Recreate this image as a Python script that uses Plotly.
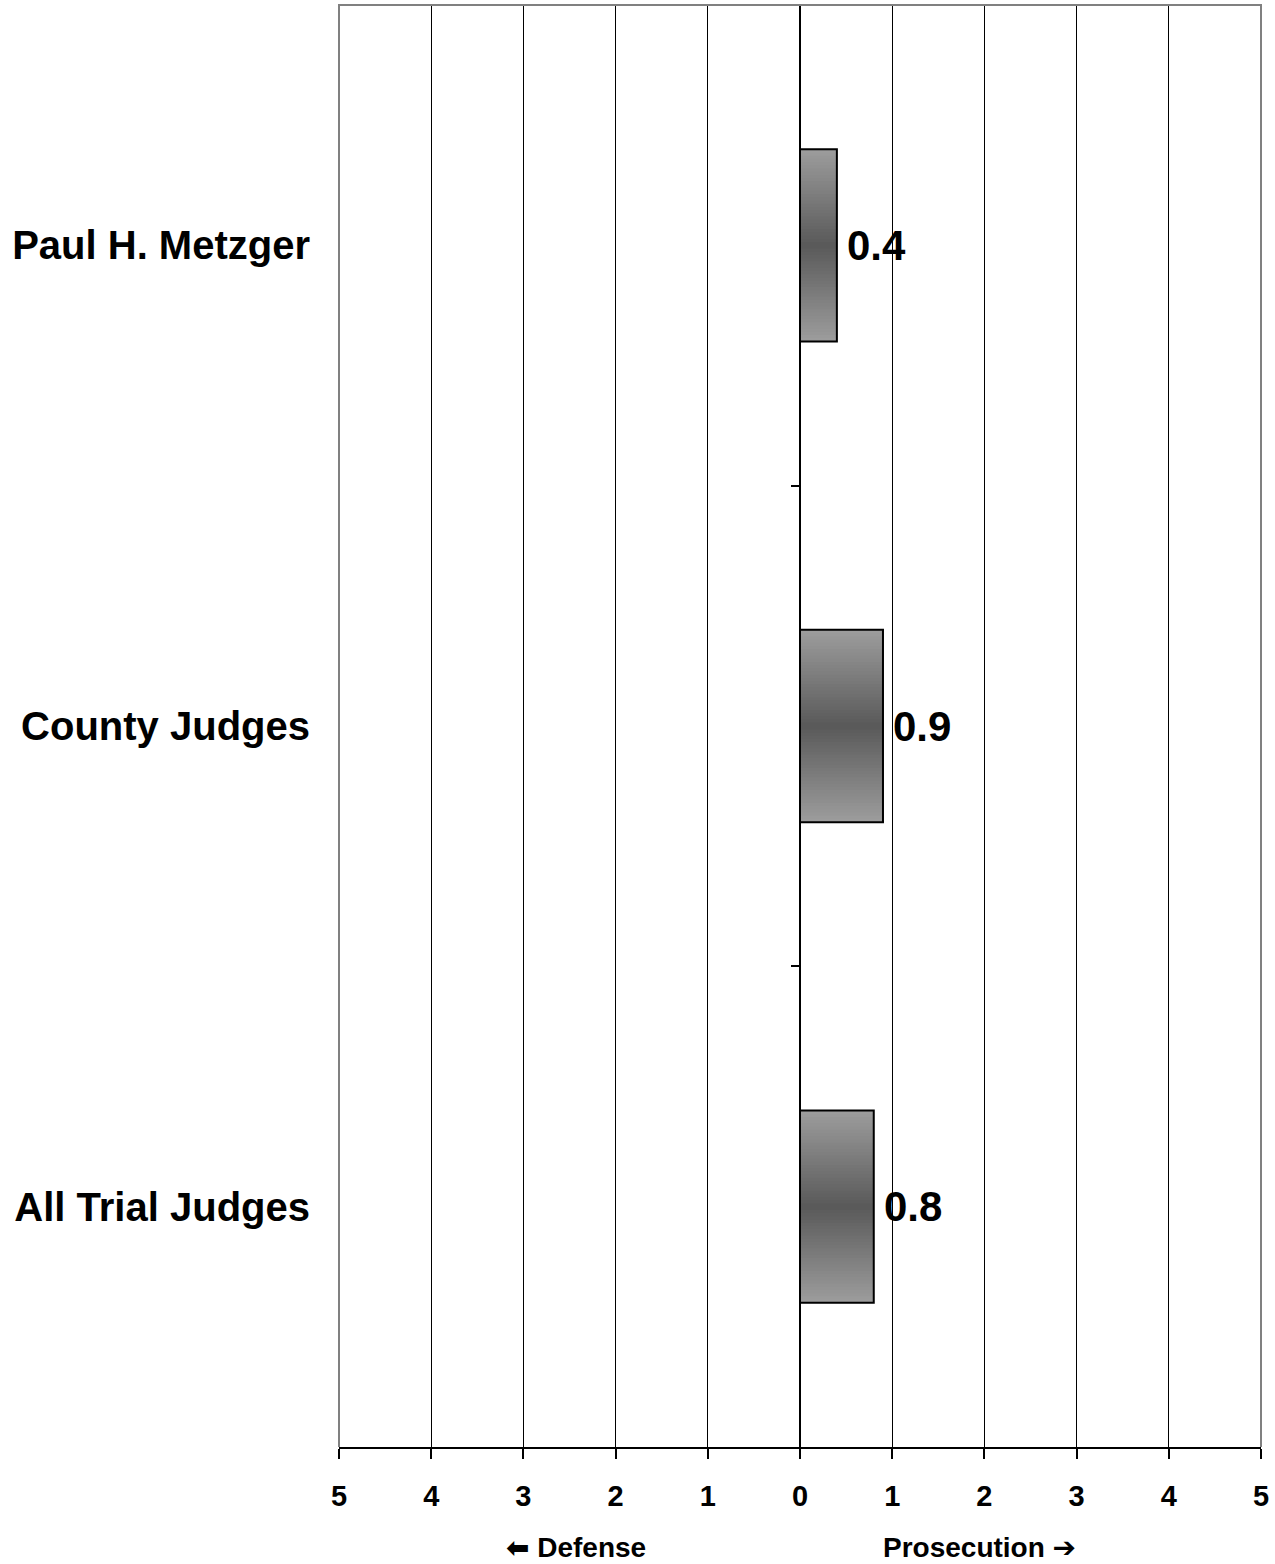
import plotly.graph_objects as go

categories = ["Paul H. Metzger", "County Judges", "All Trial Judges"]
values = [0.4, 0.9, 0.8]
tick_vals = [-5, -4, -3, -2, -1, 0, 1, 2, 3, 4, 5]
tick_text = ["5", "4", "3", "2", "1", "0", "1", "2", "3", "4", "5"]
label_text = ["0.4", "0.9", "0.8"]

FONT = "Liberation Sans, Arial, Helvetica, sans-serif"
BAR_W = 0.4
N = 30
light = (0x9c, 0x9c, 0x9c)
dark = (0x58, 0x58, 0x58)

fig = go.Figure()

# gradient simulation: overlayed bars of decreasing width, darker toward center
for k in range(N):
    d = 1 - k / N
    c = tuple(int(round(dark[i] + (light[i] - dark[i]) * d)) for i in range(3))
    fig.add_trace(go.Bar(
        y=categories, x=values, orientation="h",
        width=BAR_W * d,
        marker=dict(color="rgb(%d,%d,%d)" % c, line=dict(width=0)),
        showlegend=False, hoverinfo="skip",
    ))

# outline (on the secondary category axis drawn at x = 0)
fig.add_trace(go.Bar(
    y=categories, x=values, orientation="h", width=BAR_W, yaxis="y2",
    marker=dict(color="rgba(0,0,0,0)", line=dict(color="black", width=2)),
    showlegend=False, hoverinfo="skip",
))

for cat, v, t in zip(categories, values, label_text):
    fig.add_annotation(x=v, y=cat, text=t, showarrow=False, xanchor="left",
                       xshift=8, font=dict(family=FONT, size=42, color="black", weight="bold"))

fig.add_annotation(xref="paper", yref="paper", x=0.257, y=-0.070,
                   text="<span style='font-family:DejaVu Sans'>\u2B05</span> Defense",
                   showarrow=False, xanchor="center", yanchor="middle",
                   font=dict(family=FONT, size=28, color="black", weight="bold"))
fig.add_annotation(xref="paper", yref="paper", x=0.695, y=-0.070,
                   text="Prosecution <span style='font-family:DejaVu Sans'>\u2794</span>",
                   showarrow=False, xanchor="center", yanchor="middle",
                   font=dict(family=FONT, size=28, color="black", weight="bold"))

# gray frame (top, left, right)
fig.add_shape(type="path", xref="paper", yref="paper",
              path="M 0,0 L 0,1 L 1,1 L 1,0", line=dict(color="#808080", width=2),
              layer="above")

fig.update_layout(
    width=1275, height=1564,
    margin=dict(l=339, r=14, t=5, b=117),
    paper_bgcolor="white", plot_bgcolor="white",
    barmode="overlay",
    xaxis=dict(
        range=[-5, 5], tickvals=tick_vals, ticktext=tick_text,
        showgrid=True, gridcolor="black", gridwidth=1,
        zeroline=False,
        showline=True, linecolor="black", linewidth=2,
        ticks="outside", ticklen=10, tickwidth=2, tickcolor="black",
        ticklabelstandoff=12,
        tickfont=dict(family=FONT, size=29, color="black", weight="bold"),
        domain=[0, 1],
    ),
    yaxis=dict(
        categoryorder="array", categoryarray=categories, autorange="reversed",
        anchor="free", position=0,
        showline=False, showgrid=False, zeroline=False, ticks="",
        ticklabelstandoff=29,
        tickfont=dict(family=FONT, size=40, color="black", weight="bold"),
    ),
    yaxis2=dict(
        overlaying="y", anchor="free", position=0.5, side="left",
        categoryorder="array", categoryarray=categories, autorange="reversed",
        tickson="boundaries",
        showline=True, linecolor="black", linewidth=2,
        ticks="outside", ticklen=8, tickwidth=2, tickcolor="black",
        showticklabels=False, showgrid=False, zeroline=False,
    ),
)

fig.write_html("out.html", config={"displayModeBar": False},
               post_script="document.body.style.margin='0';")
